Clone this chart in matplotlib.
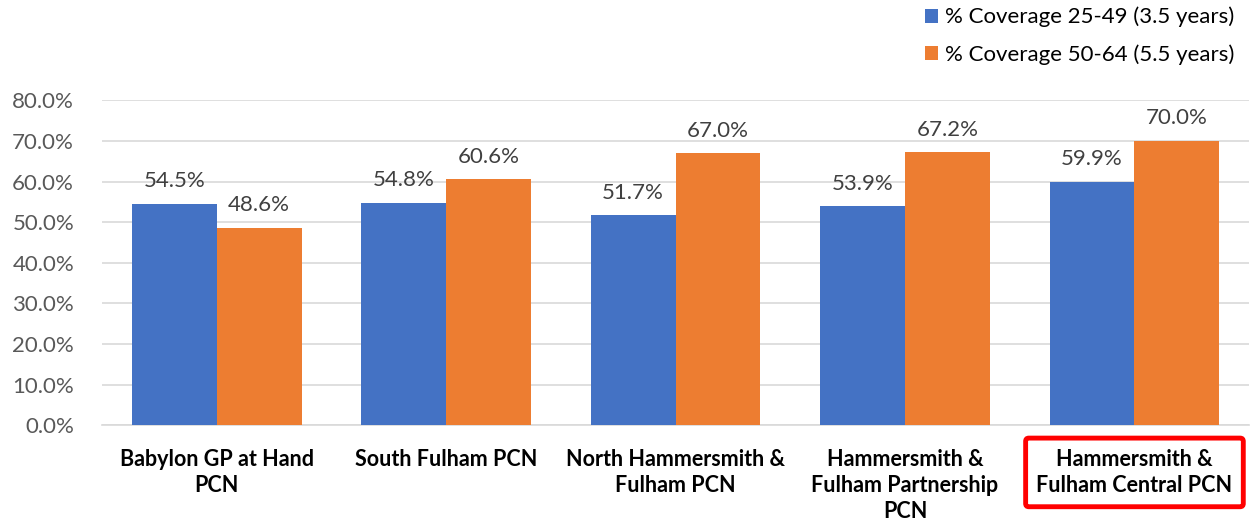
import numpy as np
import matplotlib
matplotlib.use('Agg')
from matplotlib import pyplot as plt
from matplotlib.ticker import PercentFormatter

# data
categories = ['Babylon GP at Hand\nPCN', 'South Fulham PCN', 'North Hammersmith &\nFulham PCN',
              'Hammersmith &\nFulham Partnership\nPCN', 'Hammersmith &\nFulham Central PCN']
cov_25_49 = [54.5, 54.8, 51.7, 53.9, 59.9]
cov_50_64 = [48.6, 60.6, 67.0, 67.2, 70.0]
series_names = ['% Coverage 25-49 (3.5 years)', '% Coverage 50-64 (5.5 years)']

plt.rcParams['font.family'] = ['Lato', 'DejaVu Sans']
fs = 16

fig = plt.figure(figsize=(12.58, 5.25), dpi=100)
ax = fig.add_axes([0.081, 0.19, 0.912, 0.619])

x = np.arange(len(categories))
w = 0.37
b1 = ax.bar(x - w / 2, cov_25_49, w, color='#4472C4', label=series_names[0], zorder=3)
b2 = ax.bar(x + w / 2, cov_50_64, w, color='#ED7D31', label=series_names[1], zorder=3)

for bars in (b1, b2):
    ax.bar_label(bars, labels=['%.1f%%' % v for v in bars.datavalues], padding=9,
                 fontsize=fs, color='#404040')

ax.set_ylim(0, 80)
ax.set_yticks(np.arange(0, 81, 10))
ax.yaxis.set_major_formatter(PercentFormatter(decimals=1))
ax.set_xlim(-0.5, len(categories) - 0.5)
ax.set_xticks(x)
ax.set_xticklabels(categories, fontsize=fs - 0.5, fontweight='bold', color='black',
                   linespacing=1.3)
ax.tick_params(axis='y', labelsize=fs, labelcolor='#595959', length=0, pad=20)
ax.tick_params(axis='x', length=0, pad=17)
ax.grid(axis='y', color='#d9d9d9', linewidth=1.2, zorder=0)
for s in ['top', 'right', 'left']:
    ax.spines[s].set_visible(False)
ax.spines['bottom'].set_color('#d9d9d9')
ax.spines['bottom'].set_linewidth(1.2)

# highlight last category
lab = ax.get_xticklabels()[-1]
lab.set_bbox(dict(boxstyle='round,pad=0.5,rounding_size=0.15', facecolor='none',
                  edgecolor='#FF0000', linewidth=3.5))

fig.legend(loc='upper right', bbox_to_anchor=(0.997, 1.025), frameon=False, fontsize=fs,
           handlelength=0.6, handleheight=0.6, handletextpad=0.3, labelspacing=0.75)

fig.savefig('out.png', dpi=100)
